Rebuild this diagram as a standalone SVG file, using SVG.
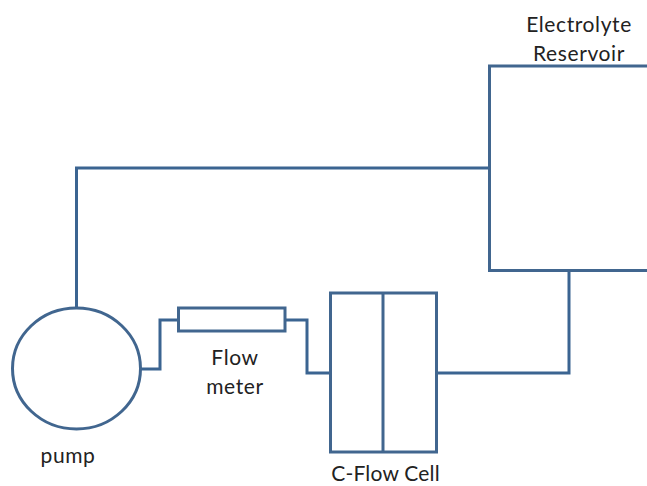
<svg xmlns="http://www.w3.org/2000/svg" width="647" height="486" viewBox="0 0 647 486">
<style>
.s{fill:#fff;stroke:#41668f;stroke-width:3}
.c{fill:none;stroke:#3b6491;stroke-width:3}
text{font-family:"Lato","Open Sans",sans-serif;font-size:21px;fill:#222;text-anchor:middle;letter-spacing:0.6px}
</style>
<rect width="647" height="486" fill="#fff"/>
<g id="connectors">
<path class="c" d="M76.500 308V168H489"/>
<path class="c" d="M141 369H160V320H178"/>
<path class="c" d="M285 320H307V373H330"/>
<path class="c" d="M436 373H569V270"/>
</g>
<g id="reservoir">
<rect class="s" x="489.500" y="66" width="160" height="204.500"/>
<text x="579" y="32">Electrolyte</text>
<text x="579" y="61">Reservoir</text>
</g>
<g id="pump">
<ellipse class="s" cx="76.500" cy="368.500" rx="64" ry="60.500"/>
<text x="68" y="463">pump</text>
</g>
<g id="flowmeter">
<rect class="s" x="178.500" y="308" width="106.500" height="23"/>
<text x="235" y="365">Flow</text>
<text x="235" y="394">meter</text>
</g>
<g id="cell">
<rect class="s" x="330.500" y="293" width="106" height="159"/>
<path class="s" d="M383 293V452"/>
<text x="385.500" y="481" style="letter-spacing:0.2px">C-Flow Cell</text>
</g>
</svg>
